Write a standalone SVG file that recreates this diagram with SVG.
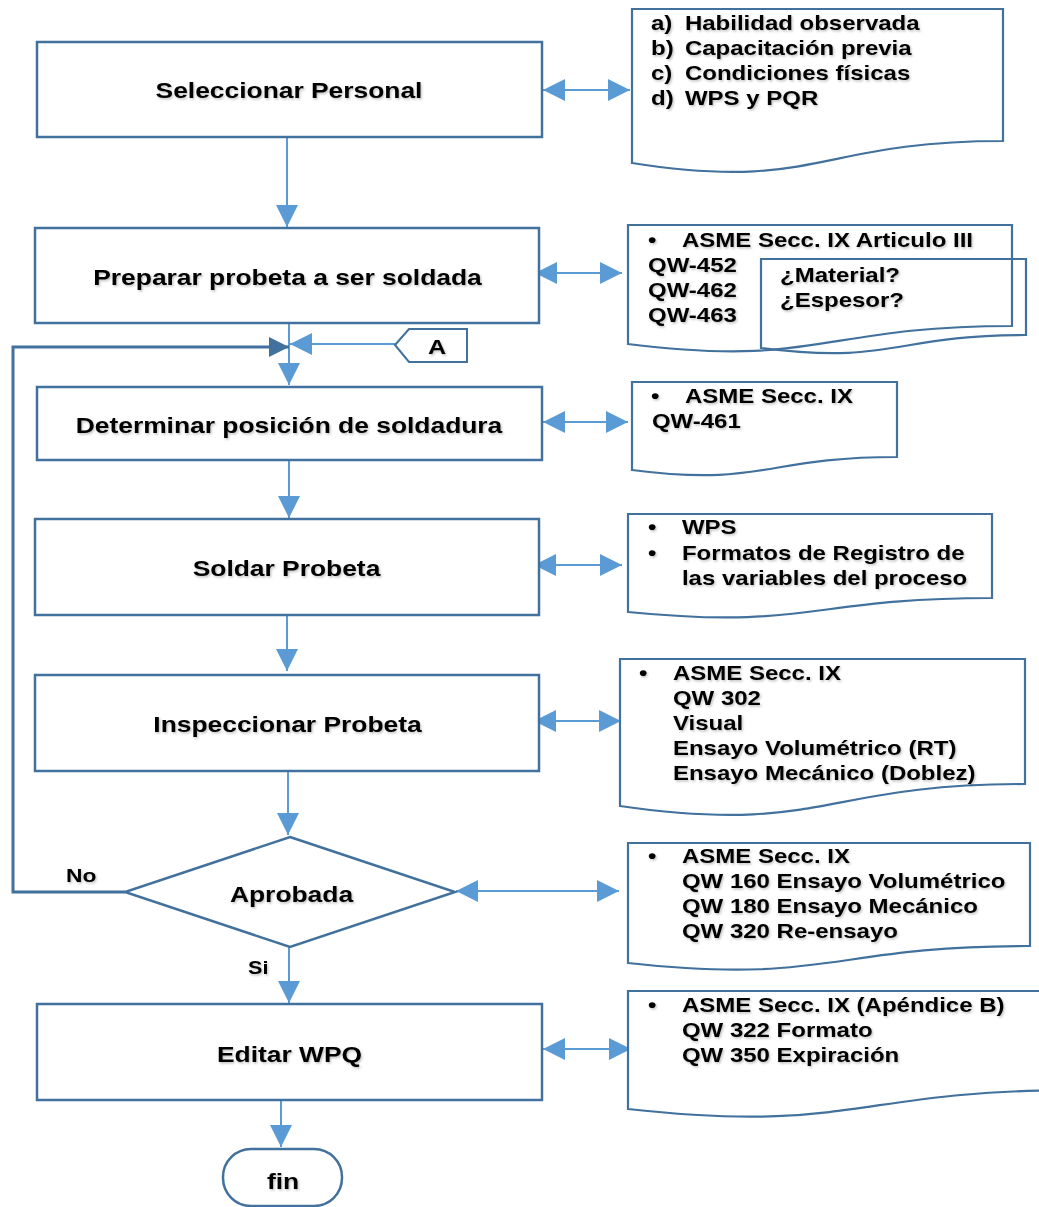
<svg xmlns="http://www.w3.org/2000/svg" width="1039" height="1207" viewBox="0 0 1039 1207">
<defs>
<style>
.box{fill:#fff;stroke:#41719C;stroke-width:2.5}
.doc{fill:#fff;stroke:#41719C;stroke-width:2.2}
.docn{fill:none;stroke:#41719C;stroke-width:2.2}
.t{font-family:"Liberation Sans",Arial,sans-serif;font-weight:bold;font-size:22px;fill:#000;filter:url(#sh)}
.d{font-family:"Liberation Sans",Arial,sans-serif;font-weight:bold;font-size:20px;fill:#000;filter:url(#sh)}
.c{fill:none;stroke:#5B9BD5;stroke-width:2}
.loop{fill:none;stroke:#41719C;stroke-width:3}
</style>
<filter id="sh" x="-5%" y="-20%" width="110%" height="150%">
<feDropShadow dx="1" dy="1.5" stdDeviation="1" flood-color="#000" flood-opacity="0.25"/>
</filter>
<marker id="ah" viewBox="0 0 22 22" refX="22" refY="11" markerWidth="22" markerHeight="22" markerUnits="userSpaceOnUse" orient="auto-start-reverse">
<path d="M0,0 L22,11 L0,22 Z" fill="#5B9BD5"/>
</marker>
<marker id="ahd" viewBox="0 0 22 22" refX="22" refY="11" markerWidth="20" markerHeight="20" markerUnits="userSpaceOnUse" orient="auto">
<path d="M0,0 L22,11 L0,22 Z" fill="#41719C"/>
</marker>
</defs>
<rect width="1039" height="1207" fill="#fff"/>

<g id="connectors">
<line class="c" x1="287" y1="137" x2="287" y2="227" marker-end="url(#ah)"/>
<line class="c" x1="289" y1="323" x2="289" y2="385" marker-end="url(#ah)"/>
<line class="c" x1="289" y1="460" x2="289" y2="518" marker-end="url(#ah)"/>
<line class="c" x1="287" y1="615" x2="287" y2="671" marker-end="url(#ah)"/>
<line class="c" x1="288" y1="771" x2="288" y2="835" marker-end="url(#ah)"/>
<line class="c" x1="289" y1="947" x2="289" y2="1003" marker-end="url(#ah)"/>
<line class="c" x1="281" y1="1100" x2="281" y2="1147" marker-end="url(#ah)"/>
<line class="c" x1="543" y1="90" x2="630" y2="90" marker-start="url(#ah)" marker-end="url(#ah)"/>
<line class="c" x1="535" y1="273" x2="622" y2="273" marker-start="url(#ah)" marker-end="url(#ah)"/>
<line class="c" x1="543" y1="422" x2="628" y2="422" marker-start="url(#ah)" marker-end="url(#ah)"/>
<line class="c" x1="534" y1="565" x2="622" y2="565" marker-start="url(#ah)" marker-end="url(#ah)"/>
<line class="c" x1="534" y1="721" x2="621" y2="721" marker-start="url(#ah)" marker-end="url(#ah)"/>
<line class="c" x1="456" y1="891" x2="619" y2="891" marker-start="url(#ah)" marker-end="url(#ah)"/>
<line class="c" x1="543" y1="1049" x2="631" y2="1049" marker-start="url(#ah)" marker-end="url(#ah)"/>
<line class="c" x1="395" y1="344" x2="290" y2="344" marker-end="url(#ah)"/>
<polyline class="loop" points="125,892 13,892 13,347 289,347" marker-end="url(#ahd)"/>
<text class="t" transform="translate(66 882) scale(1.2 1)" style="font-size:19px">No</text>
<text class="t" transform="translate(248 974) scale(1.2 1)" style="font-size:18px">Si</text>
</g>

<g id="n-seleccionar">
<rect class="box" x="37" y="42" width="505" height="95"/>
<text class="t" transform="translate(289 98) scale(1.2 1)" text-anchor="middle">Seleccionar Personal</text>
</g>
<g id="n-preparar">
<rect class="box" x="35" y="228" width="504" height="95"/>
<text class="t" transform="translate(287.5 285) scale(1.2 1)" text-anchor="middle">Preparar probeta a ser soldada</text>
</g>
<g id="n-determinar">
<rect class="box" x="37" y="387" width="505" height="73"/>
<text class="t" transform="translate(289 433) scale(1.2 1)" text-anchor="middle">Determinar posición de soldadura</text>
</g>
<g id="n-soldar">
<rect class="box" x="35" y="519" width="504" height="96"/>
<text class="t" transform="translate(286.5 576) scale(1.2 1)" text-anchor="middle">Soldar Probeta</text>
</g>
<g id="n-inspeccionar">
<rect class="box" x="35" y="675" width="504" height="96"/>
<text class="t" transform="translate(287.5 732) scale(1.2 1)" text-anchor="middle">Inspeccionar Probeta</text>
</g>
<g id="n-aprobada">
<polygon class="box" points="290,837 455,892 290,947 125,892"/>
<text class="t" transform="translate(291.5 902) scale(1.2 1)" text-anchor="middle">Aprobada</text>
</g>
<g id="n-editar">
<rect class="box" x="37" y="1004" width="505" height="96"/>
<text class="t" transform="translate(289.5 1062) scale(1.2 1)" text-anchor="middle">Editar WPQ</text>
</g>
<g id="n-fin">
<rect class="box" x="223" y="1149" width="119" height="57" rx="28"/>
<text class="t" transform="translate(283 1189) scale(1.2 1)" text-anchor="middle">fin</text>
</g>
<g id="n-conector-a">
<polygon class="box" style="stroke-width:2" points="395,345 409,329 467,329 467,362 409,362"/>
<text class="t" transform="translate(437 354) scale(1.2 1)" text-anchor="middle" style="font-size:21px">A</text>
</g>

<g id="d-personal">
<path class="doc" d="M632,9 H1003 V141 C817.5,141 817.5,192 632,163 Z"/>
<text class="d" transform="translate(651 0) scale(1.2 1)">
<tspan x="0" y="30">a)</tspan><tspan x="28.3" y="30">Habilidad observada</tspan>
<tspan x="0" y="55">b)</tspan><tspan x="28.3" y="55">Capacitación previa</tspan>
<tspan x="0" y="80">c)</tspan><tspan x="28.3" y="80">Condiciones físicas</tspan>
<tspan x="0" y="105">d)</tspan><tspan x="28.3" y="105">WPS y PQR</tspan>
</text>
</g>
<g id="d-probeta">
<path class="doc" d="M628,225 H1012 V326 C820,326 820,368 628,344 Z"/>
<text class="d" transform="translate(648 0) scale(1.2 1)">
<tspan x="0" y="247">•</tspan><tspan x="28.3" y="247">ASME Secc. IX Articulo III</tspan>
<tspan x="0" y="272">QW-452</tspan>
<tspan x="0" y="297">QW-462</tspan>
<tspan x="0" y="322">QW-463</tspan>
</text>
</g>
<g id="d-material">
<path class="docn" d="M761,259 H1026 V335 C893.5,335 893.5,365 761,348 Z"/>
<text class="d" transform="translate(780 0) scale(1.2 1)">
<tspan x="0" y="282">¿Material?</tspan>
<tspan x="0" y="307">¿Espesor?</tspan>
</text>
</g>
<g id="d-posicion">
<path class="doc" d="M632,382 H897 V457 C764.5,457 764.5,487 632,470 Z"/>
<text class="d" transform="translate(651 0) scale(1.2 1)">
<tspan x="0" y="403">•</tspan><tspan x="28.3" y="403">ASME Secc. IX</tspan>
<tspan x="0.8" y="428">QW-461</tspan>
</text>
</g>
<g id="d-soldar">
<path class="doc" d="M628,514 H992 V598 C810,598 810,630 628,612 Z"/>
<text class="d" transform="translate(648 0) scale(1.2 1)">
<tspan x="0" y="534">•</tspan><tspan x="28.3" y="534">WPS</tspan>
<tspan x="0" y="560">•</tspan><tspan x="28.3" y="560">Formatos de Registro de</tspan>
<tspan x="28.3" y="585">las variables del proceso</tspan>
</text>
</g>
<g id="d-inspeccionar">
<path class="doc" d="M620,659 H1025 V784 C822.5,784 822.5,835 620,806 Z"/>
<text class="d" transform="translate(639 0) scale(1.2 1)">
<tspan x="0" y="680">•</tspan><tspan x="28.3" y="680">ASME Secc. IX</tspan>
<tspan x="28.3" y="705">QW 302</tspan>
<tspan x="28.3" y="730">Visual</tspan>
<tspan x="28.3" y="755">Ensayo Volumétrico (RT)</tspan>
<tspan x="28.3" y="780">Ensayo Mecánico (Doblez)</tspan>
</text>
</g>
<g id="d-aprobada">
<path class="doc" d="M628,843 H1030 V946 C829,946 829,985 628,963 Z"/>
<text class="d" transform="translate(648 0) scale(1.2 1)">
<tspan x="0" y="863">•</tspan><tspan x="28.3" y="863">ASME Secc. IX</tspan>
<tspan x="28.3" y="888">QW 160 Ensayo Volumétrico</tspan>
<tspan x="28.3" y="913">QW 180 Ensayo Mecánico</tspan>
<tspan x="28.3" y="938">QW 320 Re-ensayo</tspan>
</text>
</g>
<g id="d-editar">
<path class="doc" d="M628,991 H1080 V1090 C854,1090 854,1134 628,1109 Z"/>
<text class="d" transform="translate(648 0) scale(1.2 1)">
<tspan x="0" y="1012">•</tspan><tspan x="28.3" y="1012">ASME Secc. IX (Apéndice B)</tspan>
<tspan x="28.3" y="1037">QW 322 Formato</tspan>
<tspan x="28.3" y="1062">QW 350 Expiración</tspan>
</text>
</g>
</svg>
